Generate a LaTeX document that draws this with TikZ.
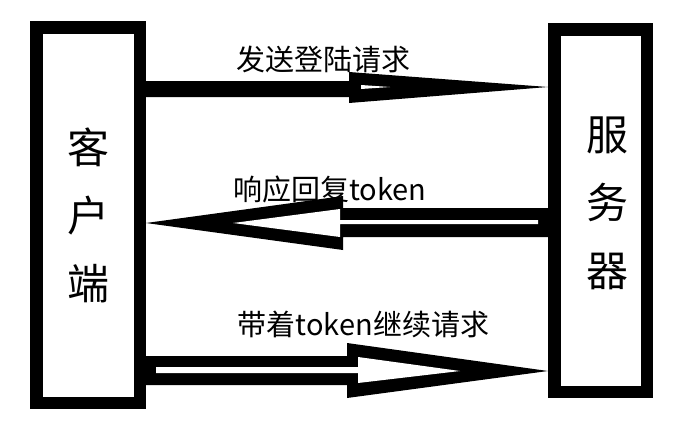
\documentclass[tikz,border=0pt]{standalone}
\usepackage{fontspec}
\setmainfont{Noto Sans CJK SC}
\begin{document}
\begin{tikzpicture}[x=1pt,y=-1pt,
  box/.style={draw,line width=12.5pt,inner sep=0pt},
  msg/.style={anchor=base,inner sep=0pt,font=\fontsize{29}{29}\selectfont},
  side/.style={align=center,inner sep=0pt,font=\fontsize{42}{68}\selectfont}]
\useasboundingbox (0,0) rectangle (686,429);
\node[box,minimum width=103.5pt,minimum height=375.5pt] (client) at (88,215) {};
\node[box,minimum width=92.5pt,minimum height=362.5pt] (server) at (600.5,210.5) {};
\node[side] (clientname) at (88,215.5) {客\\户\\端};
\node[side] (servername) at (607,203) {服\\务\\器};
\node[msg] (login) at (323.5,70) {发送登陆请求};
\node[msg] (reply) at (330,200) {响应回复token};
\node[msg] (again) at (363.5,335) {带着token继续请求};
\fill (client.east|-0,81)--(349,81)--(349,72)--(server.west|-0,87)--(349,103)--(349,97)--(client.east|-0,97)--cycle;
\fill[white] (361,85)--(390,87)--(361,89)--cycle;
\fill (server.west|-0,208)--(343,208)--(343,196)--(client.east|-0,223)--(343,250)--(343,237)--(server.west|-0,237)--cycle;
\fill[white] (538,220)--(340,220)--(340,209)--(233,223)--(340,237)--(340,224)--(538,224)--cycle;
\fill (client.east|-0,356)--(347,356)--(347,343)--(server.west|-0,371)--(347,398)--(347,385)--(client.east|-0,385)--cycle;
\fill[white] (156,367)--(358,367)--(358,357)--(460,371)--(358,383)--(358,373)--(156,373)--cycle;
\end{tikzpicture}
\end{document}
